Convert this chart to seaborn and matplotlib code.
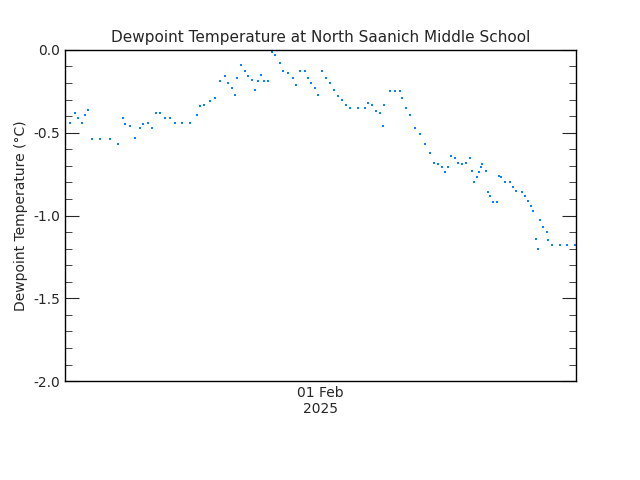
import matplotlib
matplotlib.use("Agg")
import matplotlib.pyplot as plt
import seaborn as sns
import pandas as pd
from matplotlib.ticker import MultipleLocator, FixedLocator

hours = [0.0,0.5,0.9,1.2,1.6,1.9,2.2,2.5,3.3,4.2,5.0,5.4,5.6,6.1,6.6,7.0,7.3,7.8,8.2,8.5,8.9,9.4,9.9,10.3,11.0,11.7,12.4,12.7,13.1,13.6,14.1,14.6,15.0,15.3,15.7,16.0,16.2,16.5,16.9,17.2,17.6,17.8,18.1,18.4,18.7,19.1,19.4,19.7,20.2,20.5,20.9,21.4,21.7,22.1,22.5,22.8,23.1,23.5,23.8,24.1,24.5,24.9,25.3,25.6,26.0,26.4,26.8,27.5,28.2,28.5,28.8,29.2,29.6,29.9,30.0,30.5,31.0,31.5,31.7,32.0,32.4,32.9,33.3,33.8,34.3,34.7,35.0,35.4,35.7,36.0,36.3,36.6,36.9,37.3,37.7,38.0,38.2,38.4,38.7,38.9,39.1,39.2,39.5,39.7,39.9,40.2,40.6,40.8,41.0,41.3,41.8,42.1,42.4,42.9,43.2,43.5,43.8,44.0,44.2,44.4,44.6,44.9,45.3,45.4,45.7,46.5,47.2,47.9]
dewpoint = [-0.47,-0.44,-0.38,-0.41,-0.44,-0.39,-0.36,-0.54,-0.54,-0.54,-0.57,-0.41,-0.45,-0.46,-0.53,-0.47,-0.45,-0.44,-0.47,-0.38,-0.38,-0.41,-0.41,-0.44,-0.44,-0.44,-0.39,-0.34,-0.33,-0.31,-0.29,-0.19,-0.16,-0.20,-0.23,-0.27,-0.17,-0.09,-0.13,-0.16,-0.18,-0.24,-0.19,-0.15,-0.19,-0.19,-0.01,-0.03,-0.08,-0.13,-0.14,-0.17,-0.21,-0.13,-0.13,-0.17,-0.20,-0.23,-0.27,-0.13,-0.17,-0.20,-0.24,-0.28,-0.30,-0.33,-0.35,-0.35,-0.35,-0.32,-0.33,-0.37,-0.38,-0.46,-0.33,-0.25,-0.25,-0.25,-0.29,-0.35,-0.39,-0.47,-0.51,-0.57,-0.62,-0.68,-0.69,-0.71,-0.74,-0.71,-0.64,-0.65,-0.68,-0.69,-0.68,-0.65,-0.73,-0.80,-0.77,-0.74,-0.71,-0.69,-0.73,-0.86,-0.88,-0.92,-0.92,-0.76,-0.77,-0.80,-0.80,-0.83,-0.85,-0.86,-0.88,-0.91,-0.94,-0.97,-1.14,-1.20,-1.03,-1.07,-1.10,-1.15,-1.18,-1.18,-1.18,-1.18]
xtick_pos = [24]
xtick_labels = ["01 Feb\n2025"]

df = pd.DataFrame({"h": hours, "t": dewpoint})
sns.set_style("white")
fig = plt.figure(figsize=(6.4, 4.8), dpi=100)
ax = fig.add_axes([0.1016, 0.206, 0.7984, 0.69])
sns.scatterplot(data=df, x="h", y="t", ax=ax, marker="s", s=3, color="#0A80FF", linewidth=0)
ax.set_xlim(0, 48)
ax.set_ylim(-2.0, 0.0)
ax.yaxis.set_major_locator(MultipleLocator(0.5))
ax.yaxis.set_minor_locator(MultipleLocator(0.1))
ax.set_yticks([0.0, -0.5, -1.0, -1.5, -2.0])
ax.set_yticklabels(["0.0", "-0.5", "-1.0", "-1.5", "-2.0"])
ax.xaxis.set_major_locator(FixedLocator(xtick_pos))
ax.set_xticklabels(xtick_labels)
ax.tick_params(axis="y", which="major", direction="in", length=10, right=True, left=True, labelsize=10)
ax.tick_params(axis="y", which="minor", direction="in", length=5, right=True, left=True)
ax.tick_params(axis="x", which="major", direction="in", length=0, labelsize=10)
for s in ax.spines.values():
    s.set_color("black"); s.set_linewidth(1)
ax.set_xlabel("")
ax.set_ylabel("Dewpoint Temperature (°C)", fontsize=10)
ax.set_title("Dewpoint Temperature at North Saanich Middle School", fontsize=11)
fig.savefig("out.png", dpi=100, facecolor="white")
